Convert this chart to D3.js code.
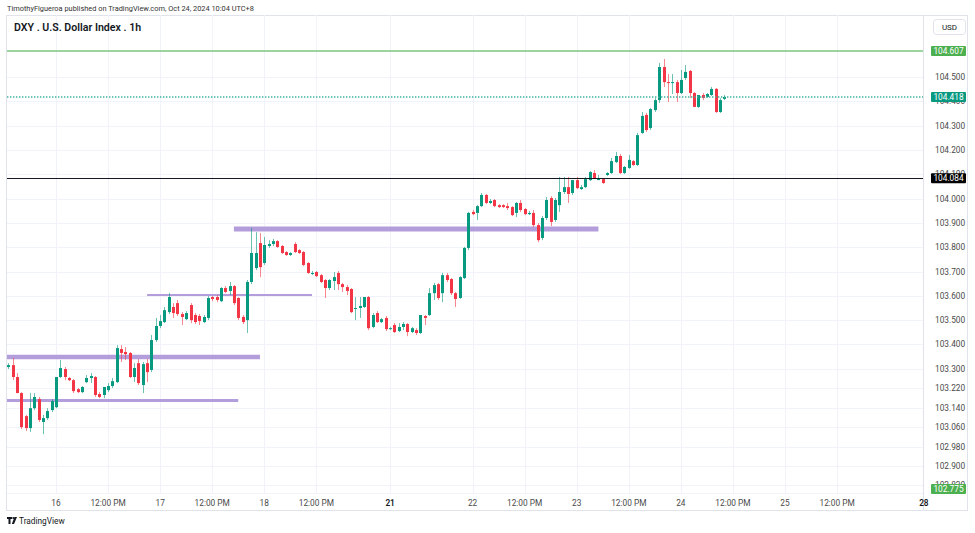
<!DOCTYPE html>
<html>
<head>
<meta charset="utf-8">
<script src="https://cdn.jsdelivr.net/npm/d3@7"></script>
<style>
  body { margin: 0; background: #fff; }
  svg { display: block; font-family: Roboto, "Open Sans", sans-serif; }
</style>
</head>
<body>
<svg id="chart" width="975" height="533"></svg>
<script>
// hourly bars, index 0 = Oct 16 00:00 (UTC+8), first visible bar is Oct 15 13:00
var firstBar = -11;

var opens = [103.307,103.315,103.266,103.200,103.105,103.056,103.138,103.175,103.081,103.097,103.130,
  103.142,103.266,103.299,103.262,103.253,103.216,103.204,103.245,103.262,103.266,103.196,103.192,103.212,103.229,103.245,
  103.381,103.369,103.365,103.266,103.323,103.233,103.323,103.295,103.418,103.476,103.492,103.533,103.554,103.570,103.525,
  103.504,103.562,103.521,103.517,103.492,103.509,103.595,103.595,103.578,103.632,103.620,103.640,103.591,103.513,103.500,
  103.657,103.714,103.817,103.735,103.805,103.813,103.825,103.805,103.780,103.768,103.813,103.788,103.780,103.735,103.690,
  103.698,103.685,103.665,103.632,103.661,103.694,103.648,103.636,103.628,103.546,103.550,103.554,103.595,103.472,103.529,
  103.492,103.509,103.463,103.480,103.455,103.472,103.484,103.451,103.459,103.447,103.517,103.521,103.611,103.648,103.611,
  103.685,103.669,103.611,103.591,103.673,103.797,103.945,103.941,103.969,104.015,103.982,103.994,103.973,103.973,103.969,
  103.965,103.941,103.982,103.957,103.936,103.941,103.891,103.838,103.920,104.002,103.912,103.973,104.027,104.047,104.023,
  104.076,104.039,104.047,104.076,104.105,104.076,104.080,104.097,104.105,104.150,104.175,104.105,104.126,104.154,104.138,
  104.270,104.344,104.290,104.364,104.405,104.541,104.479,104.475,104.479,104.434,104.496,104.525,104.434,104.377,104.426,
  104.418,104.426,104.451,104.356,104.410];

var highs = [103.323,103.344,103.282,103.204,103.110,103.200,103.200,103.184,103.110,103.138,103.175,
  103.266,103.336,103.307,103.266,103.258,103.221,103.229,103.274,103.282,103.270,103.204,103.221,103.241,103.262,103.397,
  103.397,103.389,103.369,103.323,103.340,103.328,103.340,103.439,103.509,103.521,103.554,103.611,103.570,103.583,103.533,
  103.537,103.570,103.529,103.525,103.521,103.599,103.599,103.603,103.636,103.640,103.657,103.644,103.595,103.521,103.665,
  103.879,103.862,103.858,103.842,103.829,103.834,103.829,103.809,103.784,103.780,103.821,103.792,103.784,103.739,103.702,
  103.702,103.690,103.669,103.669,103.698,103.702,103.653,103.644,103.632,103.595,103.595,103.595,103.599,103.529,103.537,
  103.509,103.517,103.472,103.488,103.488,103.492,103.488,103.472,103.467,103.521,103.521,103.632,103.653,103.653,103.694,
  103.694,103.673,103.616,103.681,103.801,103.945,103.953,103.973,104.023,104.019,103.998,103.998,103.977,103.977,103.982,
  103.969,103.986,103.994,103.961,103.949,103.953,103.899,103.928,104.006,104.010,104.002,104.089,104.089,104.089,104.076,
  104.089,104.056,104.089,104.113,104.117,104.097,104.084,104.109,104.167,104.192,104.183,104.134,104.179,104.159,104.270,
  104.356,104.352,104.373,104.414,104.558,104.574,104.512,104.512,104.488,104.529,104.549,104.529,104.438,104.426,104.434,
  104.434,104.459,104.455,104.414,104.426];

var lows = [103.299,103.253,103.200,103.052,103.044,103.040,103.130,103.081,103.031,103.089,103.122,
  103.138,103.262,103.253,103.249,103.200,103.200,103.200,103.241,103.241,103.184,103.179,103.179,103.204,103.221,103.241,
  103.328,103.336,103.262,103.245,103.233,103.200,103.245,103.286,103.410,103.467,103.488,103.525,103.509,103.517,103.480,
  103.500,103.488,103.484,103.480,103.488,103.500,103.578,103.574,103.574,103.611,103.603,103.562,103.500,103.484,103.447,
  103.648,103.706,103.677,103.727,103.797,103.805,103.797,103.772,103.764,103.764,103.776,103.772,103.722,103.690,103.685,
  103.677,103.653,103.591,103.624,103.624,103.624,103.616,103.603,103.529,103.500,103.509,103.550,103.459,103.467,103.488,
  103.488,103.455,103.459,103.447,103.451,103.459,103.434,103.447,103.439,103.443,103.480,103.517,103.583,103.583,103.574,
  103.657,103.603,103.554,103.587,103.669,103.788,103.932,103.912,103.965,103.977,103.977,103.965,103.961,103.961,103.953,
  103.928,103.924,103.945,103.932,103.932,103.883,103.821,103.829,103.912,103.887,103.904,103.945,104.019,103.982,104.015,
  104.039,104.035,104.043,104.072,104.080,104.076,104.060,104.093,104.101,104.146,104.101,104.101,104.122,104.134,104.134,
  104.266,104.274,104.282,104.356,104.393,104.459,104.397,104.430,104.397,104.430,104.488,104.414,104.377,104.373,104.405,
  104.414,104.422,104.352,104.352,104.405];

var closes = [103.315,103.266,103.200,103.060,103.056,103.138,103.184,103.089,103.097,103.126,103.167,
  103.266,103.303,103.266,103.253,103.208,103.204,103.225,103.262,103.270,103.192,103.184,103.225,103.229,103.249,103.385,
  103.365,103.360,103.266,103.303,103.241,103.319,103.286,103.418,103.476,103.496,103.541,103.595,103.529,103.525,103.513,
  103.529,103.500,103.492,103.496,103.513,103.591,103.587,103.583,103.632,103.616,103.640,103.570,103.509,103.492,103.657,
  103.776,103.776,103.718,103.809,103.813,103.825,103.801,103.776,103.768,103.776,103.780,103.776,103.727,103.694,103.694,
  103.681,103.657,103.632,103.665,103.677,103.648,103.636,103.620,103.533,103.550,103.558,103.595,103.467,103.521,103.492,
  103.504,103.463,103.467,103.451,103.472,103.484,103.451,103.467,103.447,103.521,103.509,103.611,103.644,103.591,103.685,
  103.665,103.611,103.587,103.677,103.797,103.941,103.936,103.969,104.015,103.982,103.990,103.969,103.965,103.965,103.961,
  103.932,103.982,103.953,103.936,103.941,103.891,103.829,103.920,103.994,103.904,103.994,104.027,104.047,104.019,104.076,
  104.043,104.047,104.080,104.109,104.084,104.084,104.064,104.105,104.154,104.175,104.105,104.130,104.159,104.138,104.261,
  104.340,104.282,104.368,104.405,104.541,104.479,104.475,104.479,104.434,104.488,104.521,104.434,104.377,104.426,104.414,
  104.430,104.451,104.356,104.405,104.418];

var priceTicks = [104.5, 104.4, 104.3, 104.2, 104.1, 104.0, 103.9, 103.8, 103.7, 103.6, 103.5, 103.4,
  103.3, 103.22, 103.14, 103.06, 102.98, 102.9, 102.82];
var timeTickBars = [0, 12, 24, 36, 48, 60, 77, 96, 108, 120, 132, 144, 156, 168, 180, 200];
var timeTickLabels = ["16", "12:00 PM", "17", "12:00 PM", "18", "12:00 PM", "21", "22", "12:00 PM",
  "23", "12:00 PM", "24", "12:00 PM", "25", "12:00 PM", "28"];
var boldTimeLabels = ["21", "28"];

// purple zones drawn on the chart
var zoneLevels = [103.348, 103.169, 103.603, 103.875];
var zoneFromBar = [-12, -12, 21, 41];
var zoneToBar = [47, 42, 59, 125];

// horizontal price lines with axis labels
var lineLevels = [104.607, 104.418, 104.084, 102.775];
var lineLabels = ["104.607", "104.418", "104.084", "102.775"];

var svg = d3.select("#chart");
var plot = { left: 7, right: 923, top: 15, bottom: 493 };

var x = d3.scaleLinear().domain([-11.29, 199.8]).range([plot.left, plot.right]);
var y = d3.scaleLinear().domain([102.789, 104.755]).range([plot.bottom, plot.top]);

svg.append("text")
    .attr("x", 7).attr("y", 11)
    .attr("font-size", 7.4).attr("fill", "#333")
    .text("TimothyFigueroa published on TradingView.com, Oct 24, 2024 10:04 UTC+8");

// frame
svg.append("rect")
    .attr("x", 6.5).attr("y", 15.5).attr("width", 961).attr("height", 495)
    .attr("fill", "none").attr("stroke", "#e0e3eb");

svg.append("defs").append("clipPath").attr("id", "clip")
  .append("rect")
    .attr("x", plot.left).attr("y", plot.top)
    .attr("width", plot.right - plot.left).attr("height", plot.bottom - plot.top);

// grid
var grid = svg.append("g").attr("clip-path", "url(#clip)");
grid.selectAll(".hgrid").data(priceTicks).enter().append("line")
    .attr("class", "hgrid")
    .attr("x1", plot.left).attr("x2", plot.right)
    .attr("y1", function(d) { return Math.round(y(d)) + 0.5; })
    .attr("y2", function(d) { return Math.round(y(d)) + 0.5; })
    .style("stroke", "#f0f3fa");
grid.selectAll(".vgrid").data(timeTickBars).enter().append("line")
    .attr("class", "vgrid")
    .attr("x1", function(d) { return Math.round(x(d)) + 0.5; })
    .attr("x2", function(d) { return Math.round(x(d)) + 0.5; })
    .attr("y1", plot.top).attr("y2", plot.bottom)
    .style("stroke", "#f0f3fa");

// axis separators
svg.append("line")
    .attr("x1", plot.right + 0.5).attr("x2", plot.right + 0.5)
    .attr("y1", plot.top).attr("y2", 510)
    .style("stroke", "#e0e3eb");
svg.append("line")
    .attr("x1", plot.left).attr("x2", plot.right)
    .attr("y1", plot.bottom + 0.5).attr("y2", plot.bottom + 0.5)
    .style("stroke", "#f0f3fa");

var chart = svg.append("g").attr("clip-path", "url(#clip)");

// zones
var zoneWidths = [4.5, 3, 2, 5];
chart.selectAll(".zone").data(zoneLevels).enter().append("line")
    .attr("class", "zone")
    .attr("x1", function(d, i) { return x(zoneFromBar[i]); })
    .attr("x2", function(d, i) { return x(zoneToBar[i]); })
    .attr("y1", function(d) { return y(d); })
    .attr("y2", function(d) { return y(d); })
    .style("stroke", "#b39ddb")
    .style("stroke-width", function(d, i) { return zoneWidths[i]; });

// candles
var bars = d3.range(opens.length).map(function(i) {
  return { bar: firstBar + i, o: opens[i], h: highs[i], l: lows[i], c: closes[i] };
});
var candleColor = function(d) { return d.c >= d.o ? "#089981" : "#f23645"; };
var candle = chart.selectAll(".candle").data(bars).enter().append("g")
    .attr("class", "candle");
candle.append("line")
    .attr("x1", function(d) { return Math.round(x(d.bar)) + 0.5; })
    .attr("x2", function(d) { return Math.round(x(d.bar)) + 0.5; })
    .attr("y1", function(d) { return y(d.h); })
    .attr("y2", function(d) { return y(d.l); })
    .style("stroke", candleColor)
    .style("stroke-opacity", 0.6);
candle.append("rect")
    .attr("x", function(d) { return Math.round(x(d.bar)) - 1; })
    .attr("width", 3)
    .attr("y", function(d) { return Math.min(y(d.o), y(d.c)); })
    .attr("height", function(d) { return Math.max(1, Math.abs(y(d.o) - y(d.c))); })
    .style("fill", candleColor);

// price lines, drawn over the candles (coloured ones a bit softer and wider)
var lineColors = ["#7cc47f", "#3fb3a0", "#131722", "#7cc47f"];
var lineWidths = [1.6, 1.4, 1, 1.6];
var boxColors = ["#4caf50", "#089981", "#000000", "#4caf50"];
lineLevels.forEach(function(level, i) {
  var ly = i == 2 ? Math.round(y(level)) + 0.5 : y(level);
  var ln = chart.append("path")
      .attr("d", "M" + plot.left + "," + ly + "H" + plot.right)
      .attr("fill", "none")
      .attr("stroke", lineColors[i])
      .attr("stroke-width", lineWidths[i]);
  if (i == 1) ln.attr("stroke-dasharray", "1.4,1.6");
});

// price axis
svg.selectAll(".ptick").data(priceTicks).enter().append("text")
    .attr("class", "ptick")
    .attr("x", 935)
    .attr("y", function(d) { return y(d) + 3; })
    .attr("font-size", 8.3).attr("fill", "#4a4a4a")
    .text(function(d) { return d3.format(".3f")(d); });

var labelY = function(d) { return Math.min(Math.max(y(d), 20), 489); };
var boxes = svg.selectAll(".plabel").data(lineLevels).enter().append("g")
    .attr("class", "plabel");
boxes.append("rect")
    .attr("x", 931).attr("width", 35)
    .attr("y", function(d) { return labelY(d) - 5; })
    .attr("height", 10).attr("rx", 1)
    .style("fill", function(d, i) { return boxColors[i]; });
boxes.append("text")
    .attr("x", 948.5).attr("text-anchor", "middle")
    .attr("y", function(d) { return labelY(d) + 3; })
    .attr("font-size", 8.3).attr("fill", "#fff")
    .text(function(d, i) { return lineLabels[i]; });

// time axis
svg.selectAll(".ttick").data(timeTickBars).enter().append("text")
    .attr("class", "ttick")
    .attr("x", function(d) { return x(d); })
    .attr("y", 506)
    .attr("text-anchor", "middle")
    .attr("font-size", 8.3)
    .attr("fill", function(d, i) { return boldTimeLabels.indexOf(timeTickLabels[i]) >= 0 ? "#131722" : "#4a4a4a"; })
    .attr("font-weight", function(d, i) { return boldTimeLabels.indexOf(timeTickLabels[i]) >= 0 ? 600 : 400; })
    .text(function(d, i) { return timeTickLabels[i]; });

// title and currency box
svg.append("text")
    .attr("x", 14).attr("y", 31)
    .attr("font-size", 10.6).attr("font-weight", 600).attr("fill", "#131722")
    .text("DXY . U.S. Dollar Index . 1h");
svg.append("rect")
    .attr("x", 933.5).attr("y", 19.5).attr("width", 32).attr("height", 15).attr("rx", 3)
    .style("fill", "#fff").style("stroke", "#e0e3eb");
svg.append("text")
    .attr("x", 949.5).attr("y", 30).attr("text-anchor", "middle")
    .attr("font-size", 8).attr("fill", "#131722")
    .text("USD");

// footer logo
var logo = svg.append("g").attr("transform", "translate(7,517)").style("fill", "#131722");
logo.append("path").attr("d", "M0 0H5V2H3.5V7H1.5V2H0Z");
logo.append("circle").attr("cx", 6.3).attr("cy", 1).attr("r", 1);
logo.append("path").attr("d", "M7.5 0H10L7 7H4.8Z");
svg.append("text")
    .attr("x", 19).attr("y", 524)
    .attr("font-size", 8.3).attr("fill", "#131722")
    .text("TradingView");
</script>
</body>
</html>
